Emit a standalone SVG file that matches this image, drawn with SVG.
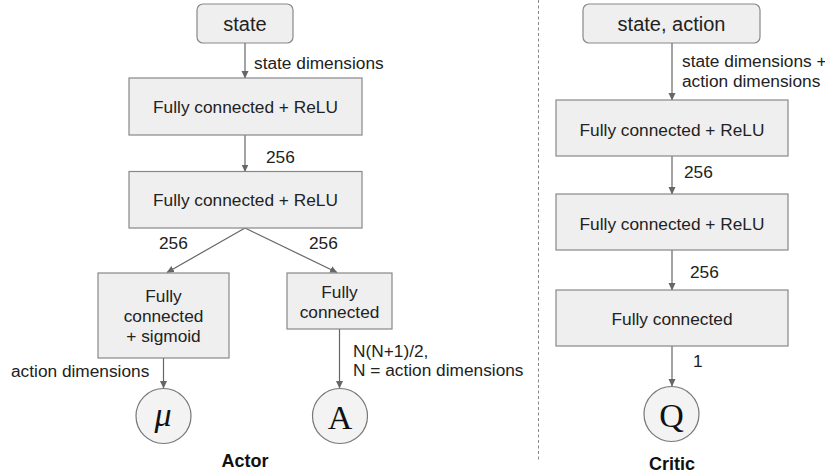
<svg xmlns="http://www.w3.org/2000/svg" width="825" height="475" viewBox="0 0 825 475">
  <defs>
    <marker id="arrow" markerWidth="8" markerHeight="8" refX="7" refY="4" orient="auto" markerUnits="userSpaceOnUse">
      <path d="M0,0.5 L7.5,4 L0,7.5 Z" fill="#666"/>
    </marker>
    <style>
      .box { fill: #efefef; stroke: #888; stroke-width: 1.2; }
      .circ { fill: #f3f3f3; stroke: #777; stroke-width: 1.2; }
      .lbl { font-family: "Liberation Sans", Arial, sans-serif; font-size: 17.3px; fill: #222; }
      .mid { text-anchor: middle; }
      .title { font-family: "Liberation Sans", Arial, sans-serif; font-size: 20px; fill: #222; text-anchor: middle; }
      .cap { font-family: "Liberation Sans", Arial, sans-serif; font-size: 18px; font-weight: bold; fill: #111; text-anchor: middle; }
      .sym { font-family: "Liberation Serif", "DejaVu Serif", serif; font-size: 34px; fill: #111; text-anchor: middle; }
      .edge { stroke: #666; stroke-width: 1.2; fill: none; marker-end: url(#arrow); }
      .sep { stroke: #888; stroke-width: 1; stroke-dasharray: 3 2.5; fill: none; }
    </style>
  </defs>
  <rect width="825" height="475" fill="#fff"/>

  <!-- separator between the two networks -->
  <line class="sep" x1="538.5" y1="0" x2="538.5" y2="462"/>

  <!-- connectors -->
  <g id="connectors">
    <line class="edge" x1="245" y1="43" x2="245" y2="78"/>
    <line class="edge" x1="245" y1="135" x2="245" y2="171.5"/>
    <line class="edge" x1="245" y1="228" x2="167" y2="272.5"/>
    <line class="edge" x1="245" y1="228" x2="337" y2="272.5"/>
    <line class="edge" x1="163.5" y1="358" x2="163.5" y2="388"/>
    <line class="edge" x1="339.5" y1="329" x2="339.5" y2="388"/>
    <line class="edge" x1="672" y1="43" x2="672" y2="100"/>
    <line class="edge" x1="672" y1="156" x2="672" y2="194"/>
    <line class="edge" x1="672" y1="250" x2="672" y2="290"/>
    <line class="edge" x1="672" y1="346" x2="672" y2="386"/>
  </g>

  <!-- edge labels -->
  <g id="edge-labels">
    <text class="lbl" x="254" y="69">state dimensions</text>
    <text class="lbl" x="266" y="163">256</text>
    <text class="lbl" x="159" y="249">256</text>
    <text class="lbl" x="309" y="249">256</text>
    <text class="lbl" x="11" y="377">action dimensions</text>
    <text class="lbl" x="353" y="357">N(N+1)/2,</text>
    <text class="lbl" x="353" y="376">N = action dimensions</text>
    <text class="lbl" x="682" y="67">state dimensions +</text>
    <text class="lbl" x="682" y="87">action dimensions</text>
    <text class="lbl" x="684" y="178">256</text>
    <text class="lbl" x="690" y="278">256</text>
    <text class="lbl" x="693" y="367">1</text>
  </g>

  <!-- Actor -->
  <g id="actor-input">
    <rect class="box" x="197" y="4" width="96" height="39" rx="6"/>
    <text class="title" x="245" y="31">state</text>
  </g>
  <g id="actor-fc1">
    <rect class="box" x="129" y="78" width="233" height="57"/>
    <text class="lbl mid" x="245.5" y="113">Fully connected + ReLU</text>
  </g>
  <g id="actor-fc2">
    <rect class="box" x="129" y="171.5" width="233" height="56.5"/>
    <text class="lbl mid" x="245.5" y="206">Fully connected + ReLU</text>
  </g>
  <g id="actor-mu-head">
    <rect class="box" x="98" y="273" width="131" height="85"/>
    <text class="lbl mid" x="163.5" y="302">Fully</text>
    <text class="lbl mid" x="163.5" y="322">connected</text>
    <text class="lbl mid" x="163.5" y="342">+ sigmoid</text>
  </g>
  <g id="actor-a-head">
    <rect class="box" x="287" y="273" width="105" height="56"/>
    <text class="lbl mid" x="339.5" y="298">Fully</text>
    <text class="lbl mid" x="339.5" y="318">connected</text>
  </g>
  <g id="actor-mu">
    <circle class="circ" cx="163.5" cy="416" r="27.5"/>
    <text class="sym" x="163" y="426" font-style="italic">μ</text>
  </g>
  <g id="actor-a">
    <circle class="circ" cx="340" cy="416" r="27.5"/>
    <text class="sym" x="340" y="429">A</text>
  </g>
  <text class="cap" x="245" y="467">Actor</text>

  <!-- Critic -->
  <g id="critic-input">
    <rect class="box" x="583" y="4" width="177" height="39" rx="6"/>
    <text class="title" x="671.5" y="31">state, action</text>
  </g>
  <g id="critic-fc1">
    <rect class="box" x="556" y="100" width="232" height="56"/>
    <text class="lbl mid" x="672" y="136">Fully connected + ReLU</text>
  </g>
  <g id="critic-fc2">
    <rect class="box" x="556" y="194" width="232" height="56"/>
    <text class="lbl mid" x="672" y="230">Fully connected + ReLU</text>
  </g>
  <g id="critic-fc3">
    <rect class="box" x="556" y="290" width="232" height="56"/>
    <text class="lbl mid" x="672" y="325">Fully connected</text>
  </g>
  <g id="critic-q">
    <circle class="circ" cx="671.5" cy="414" r="27.5"/>
    <text class="sym" x="671.5" y="427">Q</text>
  </g>
  <text class="cap" x="672" y="470">Critic</text>
</svg>
